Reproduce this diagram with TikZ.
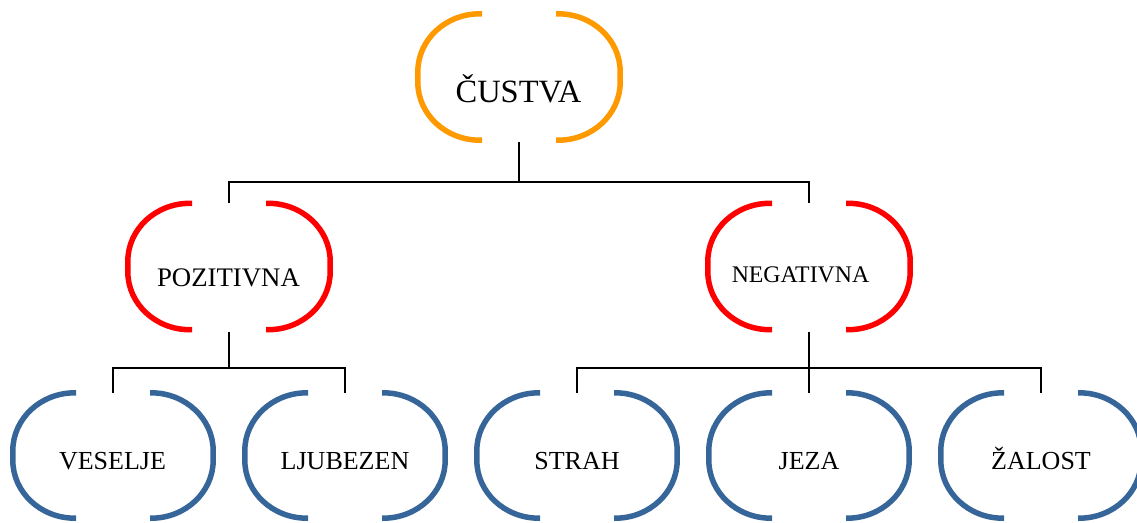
\documentclass[tikz,border=0pt]{standalone}
\usepackage{fontspec}
\usetikzlibrary{calc}
\setmainfont{Liberation Serif}
\definecolor{topcol}{RGB}{255,153,0}
\definecolor{midcol}{RGB}{255,0,0}
\definecolor{leafcol}{RGB}{54,101,153}
\tikzset{
  frame/.style={minimum width=202pt, minimum height=126pt, inner sep=0pt},
  leafframe/.style={frame, minimum width=200pt, minimum height=125pt},
  label/.style={anchor=base, inner sep=0pt, text=black},
  link/.style={draw=black, line width=2pt},
  bracket/.style={line width=5.5pt}
}
\begin{document}
\begin{tikzpicture}[x=1pt, y=-1pt]
\useasboundingbox (0,0) rectangle (1137,522);

% frames of the tree
\node[frame] (custva) at (519,77) {};
\node[frame] (poz) at (229,266.5) {};
\node[frame] (neg) at (809,266.5) {};
\node[leafframe] (ves) at (113,455.5) {};
\node[leafframe] (lju) at (345,455.5) {};
\node[leafframe] (str) at (577,455.5) {};
\node[leafframe] (jez) at (809,455.5) {};
\node[leafframe] (zal) at (1041,455.5) {};

% open brackets around each frame (elliptic corners, canvas angles)
\def\rx{62}
\def\ry{58}
\foreach \n/\c in {custva/topcol, poz/midcol, neg/midcol, ves/leafcol,
                   lju/leafcol, str/leafcol, jez/leafcol, zal/leafcol} {
  \draw[bracket, draw=\c] ([xshift=-37pt]\n.north)
     -- ($(\n.north west)+(\rx,0)$) arc(90:180:\rx pt and \ry pt)
     -- ($(\n.south west)+(0,-\ry)$) arc(180:270:\rx pt and \ry pt)
     -- ([xshift=-37pt]\n.south);
  \draw[bracket, draw=\c] ([xshift=37pt]\n.north)
     -- ($(\n.north east)+(-\rx,0)$) arc(90:0:\rx pt and \ry pt)
     -- ($(\n.south east)+(0,-\ry)$) arc(360:270:\rx pt and \ry pt)
     -- ([xshift=37pt]\n.south);
}

% texts
\node[label, font=\fontsize{32.5}{38}\selectfont] (custvaT) at (518.5,102) {ČUSTVA};
\node[label, font=\fontsize{26.8}{31}\selectfont] (pozT) at (228.5,286) {POZITIVNA};
\node[label, font=\fontsize{23.8}{28}\selectfont] (negT) at (800.5,282.5) {NEGATIVNA};
\node[label, font=\fontsize{26}{31}\selectfont] (vesT) at (112.5,469) {VESELJE};
\node[label, font=\fontsize{26}{31}\selectfont] (ljuT) at (345,469) {LJUBEZEN};
\node[label, font=\fontsize{26}{31}\selectfont] (strT) at (577,469) {STRAH};
\node[label, font=\fontsize{26}{31}\selectfont] (jezT) at (809,469) {JEZA};
\node[label, font=\fontsize{26}{31}\selectfont] (zalT) at (1041,469) {ŽALOST};

% connectors
\draw[link] ([yshift=-2pt]custva.south) -- ++(0,40) coordinate (j1);
\draw[link] (poz.north) |- (j1) -| (neg.north);
\draw[link] ([yshift=-2pt]poz.south) -- ++(0,36) coordinate (j2);
\draw[link] (ves.north) |- (j2) -| (lju.north);
\draw[link] ([yshift=-2pt]neg.south) -- ++(0,36) coordinate (j3);
\draw[link] (str.north) |- (j3) -| (zal.north);
\draw[link] (j3) -- (jez.north);
\end{tikzpicture}
\end{document}
